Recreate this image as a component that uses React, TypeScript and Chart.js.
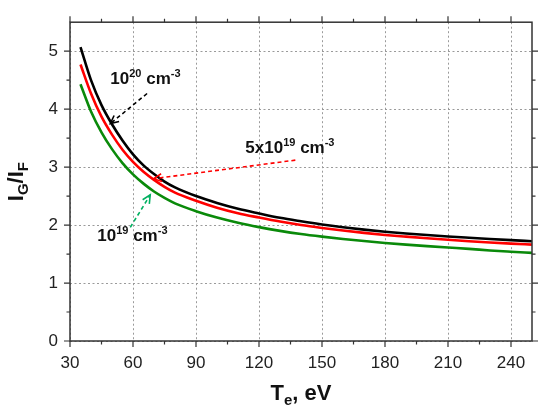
import { useEffect, useRef } from "react";
import { Chart, registerables } from "chart.js";

Chart.register(...registerables);

// electron temperature, eV
const temps = [35, 40, 45, 50, 55, 60, 65, 70, 75, 80, 90, 100, 110, 120, 130, 140, 150, 160, 170, 180, 190, 200, 210, 220, 230, 240, 250];
// I_G / I_F for each density
const n1e20 = [5.07, 4.5, 4.07, 3.74, 3.46, 3.22, 3.03, 2.88, 2.75, 2.65, 2.5, 2.38, 2.28, 2.2, 2.125, 2.065, 2.01, 1.963, 1.922, 1.886, 1.855, 1.828, 1.803, 1.781, 1.76, 1.74, 1.722];
const n5e19 = [4.77, 4.27, 3.87, 3.56, 3.3, 3.09, 2.92, 2.78, 2.66, 2.56, 2.42, 2.3, 2.205, 2.13, 2.06, 2.0, 1.95, 1.905, 1.865, 1.83, 1.8, 1.772, 1.746, 1.722, 1.7, 1.68, 1.662];
const n1e19 = [4.43, 3.96, 3.6, 3.31, 3.07, 2.875, 2.715, 2.58, 2.47, 2.375, 2.24, 2.13, 2.04, 1.965, 1.9, 1.845, 1.8, 1.76, 1.724, 1.692, 1.663, 1.637, 1.613, 1.59, 1.562, 1.54, 1.52];

const xMajorTicks = [30, 60, 90, 120, 150, 180, 210, 240];
const xMinorTicks = [45, 75, 105, 135, 165, 195, 225];
const yMajorTicks = [0, 1, 2, 3, 4, 5];
const yMinorTicks = [0.5, 1.5, 2.5, 3.5, 4.5];

const FONT = "'Liberation Sans', Arial, sans-serif";

type Part = { t: string; size: number; dy?: number };

// text made of pieces, so sub/superscripts can be drawn
function drawRich(ctx: any, parts: Part[], x: number, y: number, align: "left" | "center") {
    let w = 0;
    parts.forEach(p => {
        ctx.font = `bold ${p.size}px ${FONT}`;
        w += ctx.measureText(p.t).width;
    });
    let cx = align === "center" ? x - w / 2 : x;
    ctx.textAlign = "left";
    ctx.textBaseline = "alphabetic";
    parts.forEach(p => {
        ctx.font = `bold ${p.size}px ${FONT}`;
        ctx.fillText(p.t, cx, y + (p.dy || 0));
        cx += ctx.measureText(p.t).width;
    });
}

const arrows = [
    { color: "#000000", from: [66.7, 4.27], to: [49.2, 3.75] },
    { color: "#ff0000", from: [137.3, 3.12], to: [69.8, 2.8] },
    { color: "#00b060", from: [58.7, 1.96], to: [68.2, 2.52] },
];

const labels = [
    { at: [49.2, 4.44], parts: [{ t: "10", size: 17 }, { t: "20", size: 11, dy: -7 }, { t: " cm", size: 17 }, { t: "-3", size: 11, dy: -7 }] },
    { at: [113.5, 3.25], parts: [{ t: "5x10", size: 17 }, { t: "19", size: 11, dy: -7 }, { t: " cm", size: 17 }, { t: "-3", size: 11, dy: -7 }] },
    { at: [43, 1.73], parts: [{ t: "10", size: 17 }, { t: "19", size: 11, dy: -7 }, { t: " cm", size: 17 }, { t: "-3", size: 11, dy: -7 }] },
];

const decorPlugin = {
    id: "decor",
    beforeDatasetsDraw(chart: any) {
        const { ctx, chartArea: a, scales } = chart;
        ctx.save();
        ctx.strokeStyle = "#9a9a9a";
        ctx.lineWidth = 1;
        ctx.setLineDash([2, 2.5]);
        xMajorTicks.forEach(v => {
            const p = Math.round(scales.x.getPixelForValue(v)) + 0.5;
            ctx.beginPath();
            ctx.moveTo(p, a.top);
            ctx.lineTo(p, a.bottom);
            ctx.stroke();
        });
        yMajorTicks.forEach(v => {
            const p = Math.round(scales.y.getPixelForValue(v)) + 0.5;
            ctx.beginPath();
            ctx.moveTo(a.left, p);
            ctx.lineTo(a.right, p);
            ctx.stroke();
        });
        ctx.restore();
    },
    afterDraw(chart: any) {
        const { ctx, chartArea: a, scales } = chart;
        const xs = scales.x;
        const ys = scales.y;
        ctx.save();

        // frame
        ctx.strokeStyle = "#333";
        ctx.lineWidth = 1.5;
        ctx.strokeRect(a.left, a.top, a.right - a.left, a.bottom - a.top);

        // ticks on all four sides, outward
        ctx.lineWidth = 1.2;
        ctx.beginPath();
        const xt = (v: number, len: number) => {
            const p = xs.getPixelForValue(v);
            ctx.moveTo(p, a.bottom); ctx.lineTo(p, a.bottom + len);
            ctx.moveTo(p, a.top); ctx.lineTo(p, a.top - len);
        };
        const yt = (v: number, len: number) => {
            const p = ys.getPixelForValue(v);
            ctx.moveTo(a.left, p); ctx.lineTo(a.left - len, p);
            ctx.moveTo(a.right, p); ctx.lineTo(a.right + len, p);
        };
        xMajorTicks.forEach(v => xt(v, 6));
        xMinorTicks.forEach(v => xt(v, 3.5));
        yMajorTicks.forEach(v => yt(v, 6));
        yMinorTicks.forEach(v => yt(v, 3.5));
        ctx.stroke();

        // arrows
        arrows.forEach(ar => {
            const x1 = xs.getPixelForValue(ar.from[0]);
            const y1 = ys.getPixelForValue(ar.from[1]);
            const x2 = xs.getPixelForValue(ar.to[0]);
            const y2 = ys.getPixelForValue(ar.to[1]);
            ctx.strokeStyle = ar.color;
            ctx.lineWidth = 1.6;
            ctx.setLineDash([4, 3]);
            ctx.beginPath();
            ctx.moveTo(x1, y1);
            ctx.lineTo(x2, y2);
            ctx.stroke();
            ctx.setLineDash([]);
            const ang = Math.atan2(y2 - y1, x2 - x1);
            const hl = 9;
            ctx.beginPath();
            ctx.moveTo(x2 - hl * Math.cos(ang - 0.45), y2 - hl * Math.sin(ang - 0.45));
            ctx.lineTo(x2, y2);
            ctx.lineTo(x2 - hl * Math.cos(ang + 0.45), y2 - hl * Math.sin(ang + 0.45));
            ctx.stroke();
        });

        // labels
        ctx.fillStyle = "#111";
        labels.forEach(l => {
            drawRich(ctx, l.parts, xs.getPixelForValue(l.at[0]), ys.getPixelForValue(l.at[1]), "left");
        });

        // axis titles
        drawRich(ctx, [{ t: "T", size: 22 }, { t: "e", size: 15, dy: 5 }, { t: ", eV", size: 22 }], (a.left + a.right) / 2, 400, "center");
        ctx.translate(23, (a.top + a.bottom) / 2);
        ctx.rotate(-Math.PI / 2);
        drawRich(ctx, [{ t: "I", size: 22 }, { t: "G", size: 15, dy: 5 }, { t: "/I", size: 22 }, { t: "F", size: 15, dy: 5 }], 0, 0, "center");

        ctx.restore();
    },
};

export default function App() {
    const canvasRef: any = useRef(null);

    useEffect(() => {
        const ctx = canvasRef.current.getContext("2d");
        const pts = (ys: number[]) => temps.map((t, i) => ({ x: t, y: ys[i] }));
        const line = (label: string, ys: number[], color: string) => ({
            label,
            data: pts(ys),
            borderColor: color,
            backgroundColor: color,
            borderWidth: 2.6,
            pointRadius: 0,
            cubicInterpolationMode: "monotone" as const,
        });
        const myChart = new Chart(ctx, {
            type: "line",
            data: {
                datasets: [
                    line("10^20 cm^-3", n1e20, "#000000"),
                    line("5x10^19 cm^-3", n5e19, "#ff0000"),
                    line("10^19 cm^-3", n1e19, "#0a8a0a"),
                ],
            },
            options: {
                animation: false,
                responsive: true,
                maintainAspectRatio: false,
                layout: { padding: { top: 16, right: 18, left: 0, bottom: 0 } },
                plugins: { legend: { display: false }, tooltip: { enabled: false } },
                scales: {
                    x: {
                        type: "linear",
                        min: 30,
                        max: 250,
                        afterBuildTicks: (s: any) => { s.ticks = xMajorTicks.map(v => ({ value: v })); },
                        afterFit: (s: any) => { s.height = 75; },
                        grid: { display: false, drawTicks: false },
                        border: { display: false },
                        ticks: { padding: 12, color: "#222", font: { size: 17, family: FONT } },
                    },
                    y: {
                        min: 0,
                        max: 5.5,
                        afterBuildTicks: (s: any) => { s.ticks = yMajorTicks.map(v => ({ value: v })); },
                        afterFit: (s: any) => { s.width = 70; },
                        grid: { display: false, drawTicks: false },
                        border: { display: false },
                        ticks: { padding: 12, color: "#222", font: { size: 17, family: FONT } },
                    },
                },
            },
            plugins: [decorPlugin],
        });

        return () => {
            myChart.destroy();
        };
    }, []);

    return (
        <div style={{ position: "absolute", left: 0, top: 0, width: 550, height: 416, background: "#fff" }}>
            <canvas ref={canvasRef}></canvas>
        </div>
    );
}
